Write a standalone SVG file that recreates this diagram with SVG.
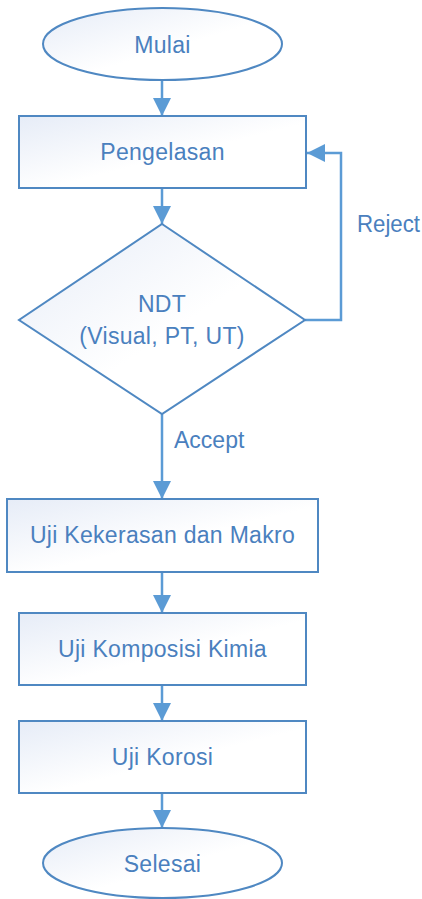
<svg xmlns="http://www.w3.org/2000/svg" width="422" height="899" viewBox="0 0 422 899">
<defs>
<linearGradient id="g" x1="0" y1="0" x2="1" y2="1">
<stop offset="0" stop-color="#E6ECF7"/>
<stop offset="0.55" stop-color="#FFFFFF"/>
<stop offset="1" stop-color="#FFFFFF"/>
</linearGradient>
<marker id="ah" markerUnits="userSpaceOnUse" markerWidth="18" markerHeight="18" refX="18" refY="9" orient="auto">
<path d="M0,0 L18,9 L0,18 z" fill="#5B9BD5"/>
</marker>
</defs>
<style>
.n{fill:url(#g);stroke:#4F88C2;stroke-width:2}
.t{font-family:"Liberation Sans",Arial,sans-serif;font-size:23px;fill:#4A80BE;text-anchor:middle;letter-spacing:0.3px}
.l{font-family:"Liberation Sans",Arial,sans-serif;font-size:23px;fill:#4A80BE}
.c{fill:none;stroke:#5B9BD5;stroke-width:2.5;marker-end:url(#ah)}
</style>
<g id="connectors">
<line class="c" x1="162" y1="80" x2="162" y2="116"/>
<line class="c" x1="162" y1="188" x2="162" y2="224"/>
<polyline class="c" points="305,320 341,320 341,153 307,153"/>
<line class="c" x1="162" y1="414" x2="162" y2="499"/>
<line class="c" x1="162" y1="572" x2="162" y2="613"/>
<line class="c" x1="162" y1="685" x2="162" y2="721"/>
<line class="c" x1="162" y1="793" x2="162" y2="828"/>
<text class="l" x="357" y="232" textLength="63" lengthAdjust="spacingAndGlyphs">Reject</text>
<text class="l" x="174" y="448">Accept</text>
</g>
<g id="mulai">
<ellipse class="n" cx="162.5" cy="44" rx="119.5" ry="36"/>
<text class="t" x="162.5" y="53">Mulai</text>
</g>
<g id="pengelasan">
<rect class="n" x="19" y="116" width="287" height="72"/>
<text class="t" x="162.5" y="160">Pengelasan</text>
</g>
<g id="ndt">
<polygon class="n" points="162,224 305,320 162,414 19,320"/>
<text class="t" x="162" y="312">NDT</text>
<text class="t" x="162" y="344">(Visual, PT, UT)</text>
</g>
<g id="kekerasan">
<rect class="n" x="7" y="499" width="311" height="73"/>
<text class="t" x="162.5" y="543">Uji Kekerasan dan Makro</text>
</g>
<g id="komposisi">
<rect class="n" x="19" y="613" width="287" height="72"/>
<text class="t" x="162.5" y="657">Uji Komposisi Kimia</text>
</g>
<g id="korosi">
<rect class="n" x="19" y="721" width="287" height="72"/>
<text class="t" x="162.5" y="765">Uji Korosi</text>
</g>
<g id="selesai">
<ellipse class="n" cx="162.5" cy="863" rx="119.5" ry="35"/>
<text class="t" x="162.5" y="872">Selesai</text>
</g>
</svg>
